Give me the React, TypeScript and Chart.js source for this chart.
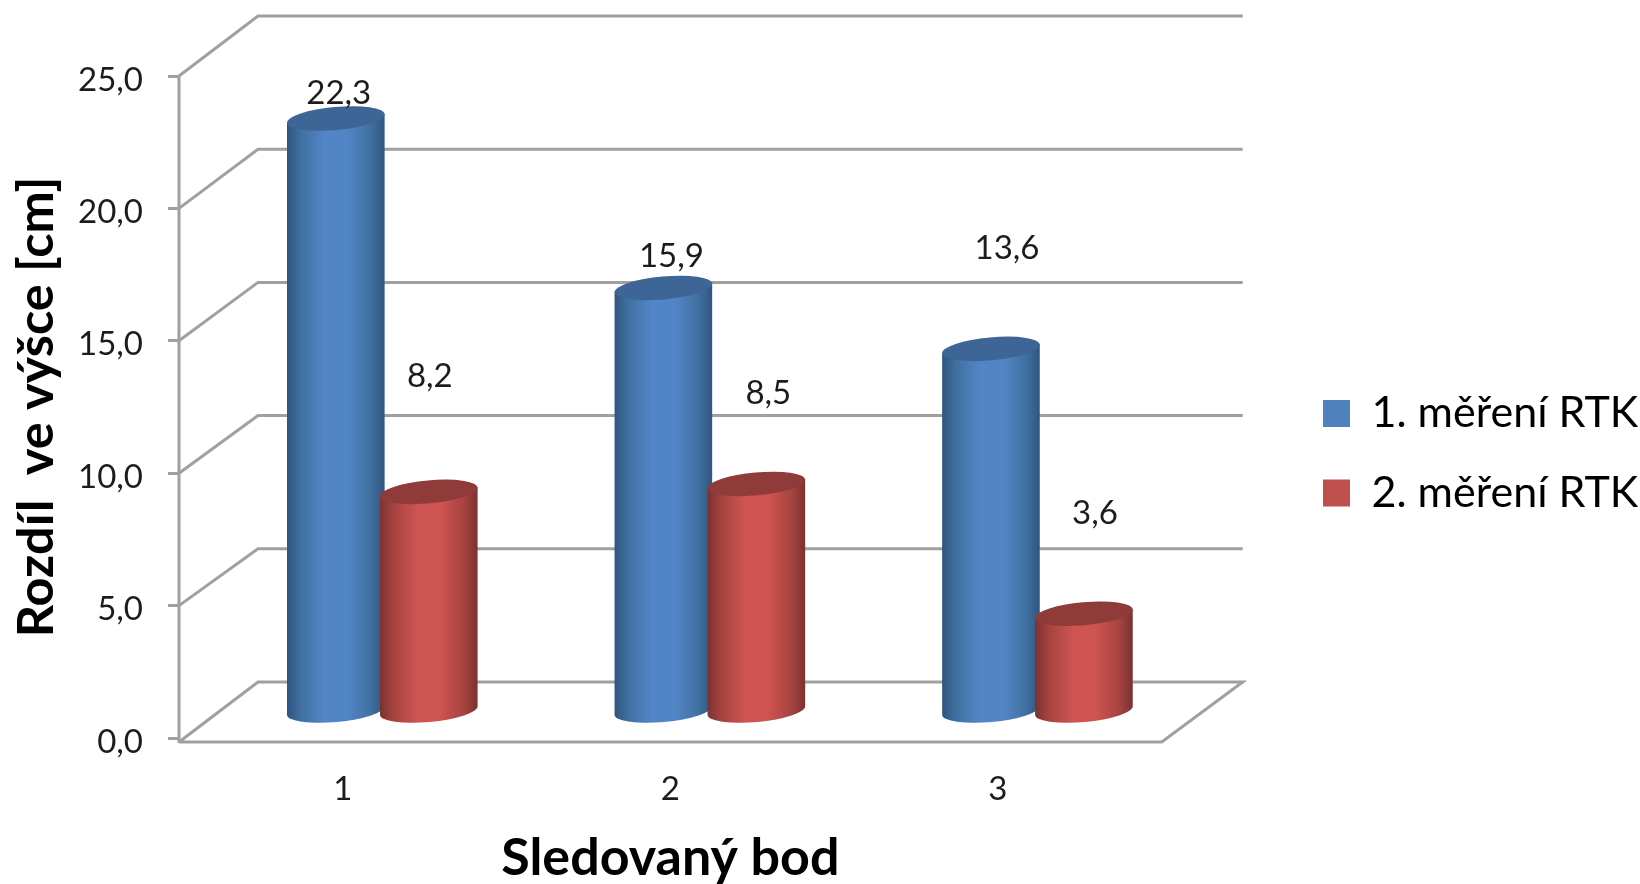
import React, { useEffect, useRef } from "react";
import { Chart, registerables } from "chart.js";

Chart.register(...registerables);

// Measured points and their series
const categories = ["1", "2", "3"];
const firstLabel = "1. měření RTK";
const secondLabel = "2. měření RTK";
const firstValues = [22.3, 15.9, 13.6];
const secondValues = [8.2, 8.5, 3.6];
const yTitle = "Rozdíl  ve výšce [cm]";
const xTitle = "Sledovaný bod";

// Value labels float freely around the cylinders, each with its own offset from the cylinder top
const labelShiftX = [[3, 8, 16], [1, 12, 11]];
const labelLift = [[54, 61, 130], [145, 120, 129]];

// Depth of the pseudo-3D box
const DEPTH_X = 81;
const DEPTH_Y_TOP = 60;
const DEPTH_Y_BOTTOM = 56;
const FLOOR_DROP = 4;
// Cylinders stand half-way into the box
const BAR_SHIFT_X = 39.5;
const BAR_SHIFT_Y = 29;
const BASE_DROP = 3;
const CAP_RY = 11.5;
const CAP_TILT = -0.09;

const LINE = "#a0a0a0";
const LINE_WIDTH = 3;
const TEXT = "#1c1c1c";
const FONT = "Lato";

const shades = [
  { fill: "#4f81bd", cap: "#3d6595", edge: "#2f5480", mid: "#5285c6", side: "#40709f" },
  { fill: "#c0504d", cap: "#8e3b39", edge: "#7a3230", mid: "#cd5450", side: "#a54340" },
];

const formatValue = (v: number) => v.toFixed(1).replace(".", ",");

function drawBox(chart: any) {
  const { ctx, chartArea } = chart;
  const yScale = chart.scales.y;
  const { left, right } = chartArea;
  const rise = (v: number) => DEPTH_Y_BOTTOM + ((DEPTH_Y_TOP - DEPTH_Y_BOTTOM) * v) / 25;
  ctx.save();
  ctx.strokeStyle = LINE;
  ctx.lineWidth = LINE_WIDTH;
  ctx.lineJoin = "miter";
  for (const tick of yScale.ticks) {
    const y = yScale.getPixelForValue(tick.value);
    const startY = tick.value === 0 ? y + FLOOR_DROP : y;
    const backY = y - rise(tick.value);
    ctx.beginPath();
    ctx.moveTo(left, startY);
    ctx.lineTo(left + DEPTH_X - 2, backY);
    ctx.lineTo(right + DEPTH_X, backY);
    if (tick.value === 0) {
      ctx.lineTo(right, startY);
      ctx.lineTo(left, startY);
    }
    ctx.stroke();
  }
  ctx.beginPath();
  ctx.moveTo(left, chartArea.top);
  ctx.lineTo(left, chartArea.bottom + FLOOR_DROP + 1);
  ctx.stroke();
  ctx.restore();
}

function drawCylinder(ctx: CanvasRenderingContext2D, bar: any, shade: (typeof shades)[number]) {
  const cx = bar.x + BAR_SHIFT_X;
  const topY = bar.y - BAR_SHIFT_Y;
  const baseY = bar.base - BAR_SHIFT_Y + BASE_DROP;
  const rx = bar.width / 2;
  const tipX = rx * Math.cos(CAP_TILT);
  const tipY = rx * Math.sin(CAP_TILT);

  const side = ctx.createLinearGradient(cx - rx, 0, cx + rx, 0);
  side.addColorStop(0, shade.edge);
  side.addColorStop(0.14, shade.side);
  side.addColorStop(0.38, shade.mid);
  side.addColorStop(0.62, shade.mid);
  side.addColorStop(0.86, shade.side);
  side.addColorStop(1, shade.edge);

  ctx.beginPath();
  ctx.moveTo(cx - tipX, topY - tipY);
  ctx.lineTo(cx - tipX, baseY - tipY);
  ctx.ellipse(cx, baseY, rx, CAP_RY, CAP_TILT, Math.PI, 0, true);
  ctx.lineTo(cx + tipX, topY + tipY);
  ctx.closePath();
  ctx.fillStyle = side;
  ctx.fill();

  ctx.beginPath();
  ctx.ellipse(cx, topY, rx, CAP_RY, CAP_TILT, 0, Math.PI * 2);
  ctx.fillStyle = shade.cap;
  ctx.fill();
}

// Replaces the flat bars with cylinders placed from the bar elements' own geometry
const cylinderPlugin = {
  id: "cylinders",
  beforeDatasetsDraw(chart: any) {
    const { ctx } = chart;
    drawBox(chart);
    chart.data.datasets.forEach((_: any, i: number) => {
      chart.getDatasetMeta(i).data.forEach((bar: any) => drawCylinder(ctx, bar, shades[i]));
    });
    ctx.save();
    ctx.fillStyle = TEXT;
    ctx.font = `33px ${FONT}`;
    ctx.textAlign = "center";
    ctx.textBaseline = "middle";
    chart.data.datasets.forEach((ds: any, i: number) => {
      chart.getDatasetMeta(i).data.forEach((bar: any, j: number) => {
        const x = bar.x + BAR_SHIFT_X + labelShiftX[i][j];
        ctx.fillText(formatValue(ds.data[j]), x, bar.y - labelLift[i][j]);
      });
    });
    ctx.restore();
    return false;
  },
};

// The legend sits well clear of the plot box, further right than the layout would put it
const legendPlacement = {
  id: "legendPlacement",
  afterLayout(chart: any) {
    const legend = chart.legend;
    legend.left = 1286.5;
    legend.right = 1640;
    legend.top = 355.5;
    legend.bottom = 620;
  },
};

export default function App() {
  const ref = useRef<HTMLCanvasElement>(null);
  useEffect(() => {
    const chart = new Chart(ref.current!, {
      type: "bar",
      data: {
        labels: categories,
        datasets: [
          { label: firstLabel, data: firstValues, backgroundColor: shades[0].fill },
          { label: secondLabel, data: secondValues, backgroundColor: shades[1].fill },
        ],
      },
      options: {
        animation: false,
        responsive: false,
        layout: { padding: { top: 76, right: 116.5, left: 0, bottom: 0 } },
        datasets: { bar: { categoryPercentage: 0.5677, barPercentage: 1.054 } },
        plugins: {
          tooltip: { enabled: false },
          title: { display: false },
          legend: {
            position: "right",
            align: "start",
            onClick: () => {},
            labels: {
              boxWidth: 27,
              boxHeight: 27,
              padding: 36.5,
              color: "#000",
              font: { family: FONT, size: 43 },
            },
          },
        },
        scales: {
          x: {
            afterFit: (s: any) => { s.height = 146; },
            grid: { display: false, drawTicks: false },
            border: { display: false },
            ticks: { color: TEXT, padding: 32, maxRotation: 0, font: { family: FONT, size: 33 } },
            title: {
              display: true,
              text: xTitle,
              color: "#000",
              padding: { top: 0, bottom: 0 },
              font: { family: FONT, size: 52, weight: "bold", lineHeight: 1 },
            },
          },
          y: {
            min: 0,
            max: 25,
            afterFit: (s: any) => { s.width = 179; },
            grid: { drawOnChartArea: false, color: LINE, lineWidth: LINE_WIDTH, tickLength: 11 },
            border: { display: false },
            ticks: {
              stepSize: 5,
              color: TEXT,
              padding: 25,
              labelOffset: 4,
              font: { family: FONT, size: 33 },
              callback: (v: any) => formatValue(Number(v)),
            },
            title: {
              display: true,
              text: yTitle,
              color: "#000",
              padding: { top: 11, bottom: 0 },
              font: { family: FONT, size: 50.5, weight: "bold", lineHeight: 1 },
            },
          },
        },
      },
      plugins: [cylinderPlugin, legendPlacement],
    } as any);
    return () => chart.destroy();
  }, []);
  return (
    <div style={{ position: "fixed", left: 0, top: 0, width: 1640, height: 884, background: "#fff" }}>
      <canvas ref={ref} width={1640} height={884} style={{ display: "block" }} />
    </div>
  );
}
